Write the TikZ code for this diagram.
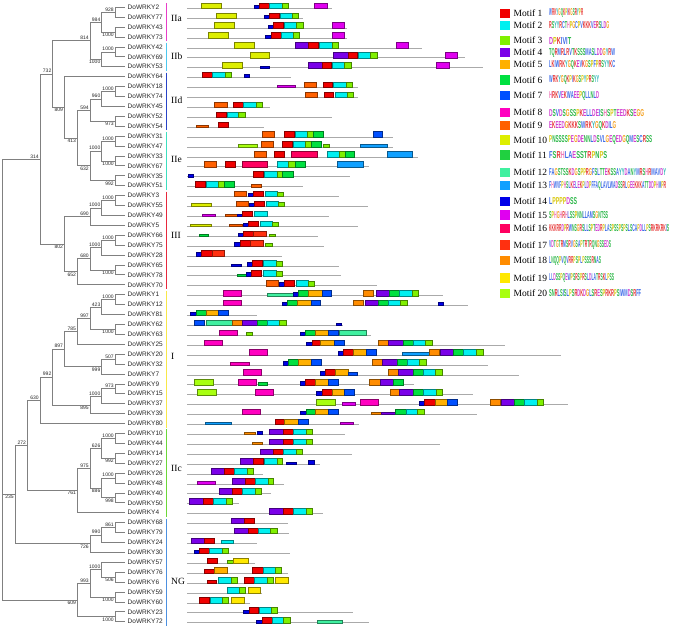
\documentclass[tikz,border=0pt]{standalone}
\usepackage{fontspec}
\setmainfont{Liberation Serif}
\setsansfont{Liberation Sans}
\usepackage{graphicx}
% motif colours
\definecolor{m1}{HTML}{F00000}
\definecolor{m2}{HTML}{00F0F0}
\definecolor{m3}{HTML}{80F000}
\definecolor{m4}{HTML}{7A00E8}
\definecolor{m5}{HTML}{FFB000}
\definecolor{m6}{HTML}{00E040}
\definecolor{m7}{HTML}{0050FF}
\definecolor{m8}{HTML}{FF00C0}
\definecolor{m9}{HTML}{FF6000}
\definecolor{m10}{HTML}{DDEE00}
\definecolor{m11}{HTML}{20D040}
\definecolor{m12}{HTML}{40F0A0}
\definecolor{m13}{HTML}{10A0FF}
\definecolor{m14}{HTML}{0000E8}
\definecolor{m15}{HTML}{E000F0}
\definecolor{m16}{HTML}{FF0060}
\definecolor{m17}{HTML}{FF3010}
\definecolor{m18}{HTML}{FF8C00}
\definecolor{m19}{HTML}{FFE800}
\definecolor{m20}{HTML}{A8FF10}
% group colours
\definecolor{gIIa}{HTML}{E83EC8}
\definecolor{gIIb}{HTML}{4CC8F0}
\definecolor{gIId}{HTML}{2844C8}
\definecolor{gIIe}{HTML}{3CE0C0}
\definecolor{gIII}{HTML}{E8283C}
\definecolor{gI}{HTML}{F8E848}
\definecolor{gIIc}{HTML}{6CD838}
\definecolor{gNG}{HTML}{4C90E0}
\definecolor{treegray}{HTML}{808080}
\definecolor{rowgray}{HTML}{AAAAAA}
% logo letter colours
\definecolor{aaHy}{HTML}{3D6BE8}
\definecolor{aaPo}{HTML}{2DB84A}
\definecolor{aaAc}{HTML}{D03FD0}
\definecolor{aaBa}{HTML}{E63232}
\definecolor{aaHi}{HTML}{F07AB8}
\definecolor{aaGl}{HTML}{F5A01E}
\definecolor{aaPr}{HTML}{D9C810}
\definecolor{aaTy}{HTML}{2AB5B5}
\definecolor{aaXx}{HTML}{999999}
\colorlet{lcA}{aaHy}\colorlet{lcC}{aaHy}\colorlet{lcF}{aaHy}\colorlet{lcI}{aaHy}
\colorlet{lcL}{aaHy}\colorlet{lcV}{aaHy}\colorlet{lcW}{aaHy}\colorlet{lcM}{aaHy}
\colorlet{lcN}{aaPo}\colorlet{lcQ}{aaPo}\colorlet{lcS}{aaPo}\colorlet{lcT}{aaPo}
\colorlet{lcD}{aaAc}\colorlet{lcE}{aaAc}\colorlet{lcK}{aaBa}\colorlet{lcR}{aaBa}
\colorlet{lcH}{aaHi}\colorlet{lcG}{aaGl}\colorlet{lcP}{aaPr}\colorlet{lcY}{aaTy}
\colorlet{lcB}{aaXx}\colorlet{lcJ}{aaXx}\colorlet{lcO}{aaXx}\colorlet{lcU}{aaXx}
\colorlet{lcX}{aaXx}\colorlet{lcZ}{aaXx}
\newcommand{\lgo}[1]{\lgoX#1\relax}
\def\lgoX#1{\ifx#1\relax\else\textcolor{lc#1}{#1}\expandafter\lgoX\fi}

\tikzset{
  tree/.style={draw=treegray, line width=0.75pt},
  leaf/.style={anchor=west, inner sep=0pt, font=\sffamily\fontsize{6.5}{7}\selectfont, text=black!85},
  bsup/.style={anchor=south east, inner sep=0pt, font=\sffamily\fontsize{5}{6}\selectfont, text=black!85, xshift=-1.2pt, yshift=0.8pt},
  bsdn/.style={anchor=north east, inner sep=0pt, font=\sffamily\fontsize{5}{6}\selectfont, text=black!85, xshift=-1.2pt, yshift=-0.8pt},
  grp/.style={anchor=west, inner sep=0pt, font=\fontsize{9.5}{10}\selectfont},
  gbar/.style={line width=1.8pt},
  rowline/.style={draw=rowgray, line width=0.8pt},
  mbox/.style={line width=0.35pt},
  lgtext/.style={anchor=west, inner sep=0pt, font=\fontsize{9.5}{10}\selectfont},
  logo/.style={anchor=west, inner sep=0pt, font=\sffamily\bfseries\fontsize{6}{6}\selectfont},
}
\newcommand{\tn}[3]{\coordinate (#1) at (#2,{7.3+9.91*(#3)});}
\newcommand{\ed}[3]{\draw[tree] (#1) |- (#2); \draw[tree] (#1) |- (#3);}
\newcommand{\bsA}[2]{\node[bsup] (b#1) at (#1) {#2};}
\newcommand{\bsB}[2]{\node[bsdn] (b#1) at (#1) {#2};}
\newcommand{\mrow}[3]{%
  \draw[rowline] (187,{7.3+9.91*#1+1}) -- (#2,{7.3+9.91*#1+1});
  \foreach \mm/\xa/\xb/\hh in {#3} {
    \filldraw[mbox, fill=m\mm, draw=m\mm!55!black] (\xa,{7.3+9.91*#1+1}) rectangle (\xb,{7.3+9.91*#1+1-\hh});
  }%
}

\begin{document}
\begin{tikzpicture}[x=1pt,y=-1pt]
\fill[white] (0,0) rectangle (675,628);
\useasboundingbox (0,0) rectangle (675,628);

% leaves
\foreach \n [count=\i from 0] in {2,77,43,73,42,69,53,64,18,74,45,52,54,31,47,33,67,35,51,3,55,49,5,66,75,28,65,78,70,1,12,81,62,63,25,20,32,7,9,15,37,39,80,10,44,14,27,26,48,40,50,4,68,79,24,30,57,76,6,59,60,23,72} {
  \coordinate (t\n) at (125,{7.3+9.91*\i});
  \node[leaf] (w\n) at (127.5,{7.3+9.91*\i}) {DoWRKY\n};
}

% tree: IIa, IIb
\tn{a1}{115}{0.5} \ed{a1}{t2}{t77} \bsA{a1}{928}
\tn{a2}{115}{2.5} \ed{a2}{t43}{t73} \bsB{a2}{1000}
\tn{a3}{101.7}{1.5} \ed{a3}{a1}{a2} \bsA{a3}{984}
\tn{b1}{115}{4.5} \ed{b1}{t42}{t69} \bsA{b1}{1000}
\tn{b2}{101.7}{5.25} \ed{b2}{b1}{t53} \bsB{b2}{1000}
\tn{ab}{90}{3.375} \ed{ab}{a3}{b2} \bsA{ab}{814}
% IId
\tn{d1}{115}{8.5} \ed{d1}{t18}{t74} \bsA{d1}{1000}
\tn{d2}{101.7}{9.25} \ed{d2}{d1}{t45} \bsA{d2}{960}
\tn{d3}{115}{11.5} \ed{d3}{t52}{t54} \bsB{d3}{973}
\tn{d4}{90}{10.375} \ed{d4}{d2}{d3} \bsA{d4}{594}
% IIe
\tn{e1}{115}{13.5} \ed{e1}{t31}{t47} \bsA{e1}{1000}
\tn{e2}{115}{15.5} \ed{e2}{t33}{t67} \bsB{e2}{1000}
\tn{e3}{101.7}{14.5} \ed{e3}{e1}{e2} \bsA{e3}{1000}
\tn{e4}{115}{17.5} \ed{e4}{t35}{t51} \bsB{e4}{992}
\tn{e5}{90}{16} \ed{e5}{e3}{e4} \bsB{e5}{632}
\tn{de}{77.3}{13.1875} \ed{de}{d4}{e5} \bsB{de}{413}
\tn{d0}{64.3}{10.09375} \ed{d0}{t64}{de} \bsB{d0}{809}
\tn{tp}{52.7}{6.734} \ed{tp}{ab}{d0} \bsA{tp}{732}
% III
\tn{s1}{115}{19.5} \ed{s1}{t3}{t55} \bsA{s1}{1000}
\tn{s2}{101.7}{20.25} \ed{s2}{s1}{t49} \bsA{s2}{1000}
\tn{s3}{90}{21.125} \ed{s3}{s2}{t5} \bsA{s3}{690}
\tn{s4}{115}{23.5} \ed{s4}{t66}{t75} \bsA{s4}{1000}
\tn{s5}{101.7}{24.25} \ed{s5}{s4}{t28} \bsA{s5}{1000}
\tn{s6}{115}{26.5} \ed{s6}{t65}{t78} \bsB{s6}{1000}
\tn{s7}{90}{25.375} \ed{s7}{s5}{s6} \bsA{s7}{680}
\tn{s8}{77.3}{26.6875} \ed{s8}{s7}{t70} \bsB{s8}{652}
\tn{s9}{64.3}{23.906} \ed{s9}{s3}{s8} \bsB{s9}{802}
\tn{n314}{40}{15.32} \ed{n314}{tp}{s9} \bsA{n314}{314}
% I
\tn{i1}{115}{29.5} \ed{i1}{t1}{t12} \bsA{i1}{1000}
\tn{i2}{101.7}{30.25} \ed{i2}{i1}{t81} \bsA{i2}{423}
\tn{i3}{115}{32.5} \ed{i3}{t62}{t63} \bsB{i3}{1000}
\tn{i4}{90}{31.375} \ed{i4}{i2}{i3} \bsA{i4}{997}
\tn{i5}{77.3}{32.6875} \ed{i5}{i4}{t25} \bsA{i5}{785}
\tn{i6}{115}{35.5} \ed{i6}{t20}{t32} \bsA{i6}{507}
\tn{i7}{101.7}{36.25} \ed{i7}{i6}{t7} \bsB{i7}{999}
\tn{i8}{64.3}{34.47} \ed{i8}{i5}{i7} \bsA{i8}{897}
\tn{i9}{115}{38.5} \ed{i9}{t9}{t15} \bsA{i9}{973}
\tn{i10}{101.7}{39.25} \ed{i10}{i9}{t37} \bsA{i10}{1000}
\tn{i11}{90}{40.125} \ed{i11}{i10}{t39} \bsB{i11}{895}
\tn{i12}{52.7}{37.297} \ed{i12}{i8}{i11} \bsA{i12}{992}
\tn{i13}{40}{39.65} \ed{i13}{i12}{t80} \bsA{i13}{630}
% IIc
\tn{c1}{115}{43.5} \ed{c1}{t10}{t44} \bsA{c1}{1000}
\tn{c2}{115}{45.5} \ed{c2}{t14}{t27} \bsB{c2}{992}
\tn{c3}{101.7}{44.5} \ed{c3}{c1}{c2} \bsA{c3}{626}
\tn{c4}{115}{47.5} \ed{c4}{t26}{t48} \bsA{c4}{1000}
\tn{c5}{115}{49.5} \ed{c5}{t40}{t50} \bsB{c5}{998}
\tn{c6}{101.7}{48.5} \ed{c6}{c4}{c5} \bsB{c6}{886}
\tn{c7}{90}{46.5} \ed{c7}{c3}{c6} \bsA{c7}{975}
\tn{c8}{77.3}{48.75} \ed{c8}{c7}{t4} \bsB{c8}{761}
\tn{n272}{27.3}{44.2} \ed{n272}{i13}{c8} \bsA{n272}{272}
% NG
\tn{g1}{115}{52.5} \ed{g1}{t68}{t79} \bsA{g1}{861}
\tn{g2}{101.7}{53.25} \ed{g2}{g1}{t24} \bsA{g2}{990}
\tn{g3}{90}{54.125} \ed{g3}{g2}{t30} \bsB{g3}{726}
\tn{n235}{15}{49.1625} \ed{n235}{n272}{g3} \bsB{n235}{235}
\tn{g4}{115}{57.5} \ed{g4}{t76}{t6} \bsB{g4}{506}
\tn{g5}{101.7}{56.75} \ed{g5}{t57}{g4} \bsA{g5}{1000}
\tn{g6}{115}{59.5} \ed{g6}{t59}{t60} \bsB{g6}{1000}
\tn{g7}{90}{58.125} \ed{g7}{g5}{g6} \bsA{g7}{993}
\tn{g8}{115}{61.5} \ed{g8}{t23}{t72} \bsB{g8}{1000}
\tn{g9}{77.3}{59.8125} \ed{g9}{g7}{g8} \bsB{g9}{609}
\tn{root}{2.7}{49.1625}
\draw[tree] (root) |- (n314);
\draw[tree] (root) |- (n235);
\draw[tree] (root) |- (g9);

% group bars and labels
\foreach \g/\fa/\la/\ly in {IIa/0/3/18.3, IIb/4/6/56, IId/7/12/100, IIe/13/18/159.3, III/19/28/235, I/29/42/356, IIc/43/51/468.3, NG/52/62/581} {
  \draw[gbar, g\g] (166.5,{7.3+9.91*\fa-4}) -- (166.5,{7.3+9.91*\la+4});
  \node[grp] (lab\g) at (171,\ly) {\g};
}

% motif rows
\mrow{0}{331.7}{10/200.7/220.7/5.5, 14/253.7/259.3/3, 1/259.3/269/5.5, 2/269/281.7/5.5, 3/281.7/287.7/5.5, 15/314.3/326.7/5.5}
\mrow{1}{303.3}{10/216/236/5.5, 14/264.3/269.3/3, 1/269.3/279/5.5, 2/280/292.3/5.5, 3/292.3/298.3/5.5}
\mrow{2}{346.7}{10/214.3/234.3/5.5, 14/268.3/273.3/3, 1/273.3/283.3/5.5, 2/284/296/5.5, 3/296/302.7/5.5, 15/331.7/344/5.5}
\mrow{3}{346.7}{10/208.3/228.3/5.5, 14/265.3/270.7/3, 1/270.7/280.7/5.5, 2/280.7/293.3/5.5, 3/293.3/299.3/5.5, 15/331.7/344/5.5}
\mrow{4}{421.7}{10/234.3/254.3/5.5, 4/295/308.3/5.5, 1/308.3/317.7/5.5, 2/319.3/331.7/5.5, 3/331.7/337.7/5.5, 15/396/408.3/5.5}
\mrow{5}{465}{10/250/269.3/5.5, 4/333.3/347.7/5.5, 1/347.7/356.7/5.5, 2/357.7/370/5.5, 3/370/376.7/5.5, 15/445/456.7/5.5}
\mrow{6}{483.3}{10/221.7/241.7/5.5, 14/260/269.3/2, 4/308.3/321.7/5.5, 1/321.7/331/5.5, 2/332.3/344.3/5.5, 3/344.3/350.7/5.5, 15/436/449/5.5}
\mrow{7}{291}{1/201.7/212.3/5.5, 2/212.3/225/5.5, 3/225/231/5.5, 14/244/249.3/3}
\mrow{8}{358.3}{15/276.7/295/2.5, 9/304/316/5.5, 1/322.7/332.3/5.5, 2/333.3/346/5.5, 3/346/351.7/5.5}
\mrow{9}{358.3}{9/305.3/317.3/5.5, 1/324/333.3/5.5, 2/335/346.7/5.5, 3/346.7/352.7/5.5}
\mrow{10}{270}{9/214.3/226.7/5.5, 1/232.7/242.7/5.5, 2/243.3/256/5.5, 3/256/261.7/5.5}
\mrow{11}{332.3}{1/215.7/226/5.5, 2/226.7/238.3/5.5, 3/238.3/245/5.5}
\mrow{12}{264.3}{9/196/208.3/2.5, 1/218.3/228.3/5.5}
\mrow{13}{393.3}{9/262.3/274.3/5.5, 1/284.3/294/5.5, 2/295/307.3/5.5, 3/307.3/313.3/5.5, 6/313.3/323.3/5.5, 7/372.7/381.7/5.5}
\mrow{14}{393.3}{20/238.3/256.7/3, 9/261/272.7/5.5, 1/281.7/291.7/5.5, 2/293.3/305/5.5, 3/305/311/5.5, 6/311/320.7/5.5, 3/322.7/329.3/2.5, 13/360/386.7/3}
\mrow{15}{418.3}{9/254/265.7/5.5, 1/274.3/284.3/5.5, 16/291/316.7/5.5, 2/326.7/339/5.5, 3/339/345/5.5, 6/345/354/5.5, 13/386.7/412.3/5.5}
\mrow{16}{369.3}{9/204.3/216/5.5, 1/225/235/5.5, 16/241.7/267.3/5.5, 2/276.7/288.3/5.5, 3/288.3/295/5.5, 6/295/305/5.5, 13/337.3/362.7/5.5}
\mrow{17}{350}{14/188/193.3/2.5, 1/253.3/263.3/5.5, 2/264/276.7/5.5, 3/276.7/282.3/5.5, 6/282.3/292.7/5.5}
\mrow{18}{303.3}{1/195/205/5.5, 2/206/218.3/5.5, 3/218.3/224.3/5.5, 6/224.3/234/5.5, 9/251/260.7/2.5}
\mrow{19}{339.3}{9/234/245.7/5.5, 14/247.7/253.3/3.5, 1/253.3/262.7/5.5, 2/265/276.7/5.5, 3/276.7/283.3/4.5}
\mrow{20}{367.7}{10/191/211/3.5, 9/235.7/247.7/5.5, 14/249/254.3/3.5, 1/254.3/264/5.5, 2/266/278.3/5.5, 3/278.3/284.3/4.5}
\mrow{21}{329.3}{15/201.7/215/2.5, 9/225/237.3/2.5, 14/237.3/242.3/2.5, 1/242.3/252.3/5.5, 2/254.3/266.7/5.5}
\mrow{22}{357.7}{10/190/210.7/2.5, 9/229/241.7/2.5, 14/242.7/248.3/3.5, 1/248.3/258.3/5.5, 2/260/272/5.5, 3/272/278.3/4.5}
\mrow{23}{318.3}{6/199/208.3/2.5, 14/237.7/242.7/3.5, 1/242.7/253.3/5.5, 17/253.3/266/5.5, 3/269.3/275.3/2.5}
\mrow{24}{324}{14/234.3/240/3.5, 1/240/250/5.5, 17/250/262.7/5.5, 3/265.3/271.7/2.5}
\mrow{25}{281.7}{14/196/201/3.5, 1/201/211.7/5.5, 17/211.7/224/5.5}
\mrow{26}{339.3}{14/231/241/2, 14/246.7/251.7/3.5, 1/251.7/261.7/5.5, 2/263.3/276/5.5, 3/276/281.7/4.5}
\mrow{27}{341}{6/236.7/246/2, 14/246/251/3.5, 1/251/261/5.5, 2/263.3/276/5.5, 3/276/281.7/4.5}
\mrow{28}{376.7}{9/266/277.7/5.5, 14/279/284.3/3.5, 1/284.3/294/5.5, 2/296/308.3/5.5, 3/308.3/314.3/4.5}
\mrow{29}{443}{8/223.3/241/5.5, 12/267.3/293.3/2.5, 14/293.3/298.3/3.5, 6/298.3/308.3/5.5, 5/308.3/321.7/5.5, 7/321.7/331/5.5, 18/363.3/373.3/5.5, 4/376/389.3/5.5, 6/389.3/399.3/5.5, 2/399.3/411.7/5.5, 3/411.7/417.7/5.5}
\mrow{30}{468.3}{8/223.3/241/5.5, 14/282.3/287.3/3.5, 6/287.3/297.3/5.5, 5/297.3/310.7/5.5, 7/310.7/320/5.5, 18/353.3/363.3/5.5, 4/365/378.3/5.5, 6/378.3/387.7/5.5, 2/387.7/400/5.5, 3/400/406.7/5.5, 14/437.7/442.7/3}
\mrow{31}{256.7}{14/190/195.7/3.5, 6/195.7/206/5.5, 5/206/218.3/5.5, 7/218.3/227.7/5.5}
\mrow{32}{343.3}{7/194.3/204/5.5, 12/206/231.7/5.5, 18/231.7/242.3/5.5, 4/242.3/257.3/5.5, 6/257.3/267.3/5.5, 2/267.3/279.3/5.5, 3/279.3/285.7/5.5, 14/335.7/341.3/2.5}
\mrow{33}{370.7}{8/219/236.7/5.5, 3/245.7/251.7/3.5, 14/300/305/3.5, 6/305/315/5.5, 5/315/328.3/5.5, 7/328.3/338.3/5.5, 12/339.3/365.7/5.5}
\mrow{34}{505}{8/204/222.3/5.5, 14/305.7/311.7/3.5, 1/311.7/320/5.5, 5/320/334/5.5, 7/334/344/5.5, 18/378.3/388.3/5.5, 4/388.3/402.7/5.5, 6/402.7/412.7/5.5, 2/412.7/425/5.5, 3/425/431.7/5.5}
\mrow{35}{561}{8/249/267.3/5.5, 14/337.7/342.7/3.5, 1/342.7/353.3/5.5, 5/353.3/366/5.5, 7/366/375.7/5.5, 13/402.3/429.3/2.5, 18/429.3/439.3/5.5, 4/440/453.3/5.5, 6/453.3/463.3/5.5, 2/463.3/476/5.5, 3/476/482.7/5.5}
\mrow{36}{487.7}{8/230/249/2.5, 14/283.3/288.3/3.5, 6/288.3/298.3/5.5, 5/298.3/311/5.5, 7/311/321/5.5, 18/372.3/382.3/5.5, 4/382.3/396.7/5.5, 6/396.7/406.7/5.5, 2/406.7/419.3/5.5, 3/419.3/426/5.5}
\mrow{37}{519}{8/242.7/261/5.5, 14/320/325/3.5, 1/325/335/5.5, 5/335/347.7/5.5, 7/347.7/357.3/3, 18/388.3/398.3/5.5, 4/398.3/412.7/5.5, 6/412.7/422.7/5.5, 2/422.7/435/5.5, 3/435/441.7/5.5}
\mrow{38}{414}{20/194.3/213.3/5.5, 8/237.7/256/5.5, 6/257.7/267.3/2.5, 14/300/305/3.5, 1/305/315/5.5, 5/315/328.3/5.5, 7/328.3/337.7/5.5, 18/369.3/380/5.5, 4/380/393.3/5.5, 6/393.3/402.7/5.5}
\mrow{39}{473.3}{20/196.7/215.7/5.5, 8/255/273.3/5.5, 14/315.7/321.7/3.5, 1/321.7/331.7/5.5, 5/331.7/344.3/5.5, 7/344.3/354/5.5, 18/390/399.3/5.5, 4/399.3/413.3/5.5, 6/413.3/423.3/5.5, 2/423.3/436/5.5, 3/436/442.3/5.5}
\mrow{40}{567.7}{20/315.7/335/5.5, 15/342.3/355/2.5, 8/360/378.3/5.5, 14/419/424.3/3.5, 1/424.3/435/5.5, 5/435/447.3/5.5, 7/447.3/456.7/5.5, 18/490/500/5.5, 4/500.7/514.3/5.5, 6/514.3/524.3/5.5, 2/524.3/536.7/5.5, 3/536.7/543.3/5.5}
\mrow{41}{476.7}{8/241.7/260/5.5, 14/300/305.7/3.5, 6/305.7/315/5.5, 5/315/328.3/5.5, 7/328.3/338.3/5.5, 18/371/381/2.5, 4/381/395/2.5, 6/395/405.7/5.5, 2/405.7/416.7/5.5, 3/416.7/424/5.5}
\mrow{42}{359}{13/205/231/2.5, 1/275/284.3/5.5, 5/284.3/298.3/5.5, 7/298.3/307.7/5.5, 15/340/352.7/2.5}
\mrow{43}{345}{18/244.3/255/2.5, 14/257.3/262.3/3.5, 4/269.3/283.3/5.5, 1/283.3/293.3/5.5, 2/293.3/306/5.5, 3/306/311.7/5.5}
\mrow{44}{440}{18/251.7/261.7/2.5, 4/269.3/283.3/5.5, 1/283.3/293.3/5.5, 2/293.3/306/5.5, 3/306/311.7/5.5}
\mrow{45}{351.7}{4/260/273.3/5.5, 1/273.3/283.3/5.5, 2/283.3/296/5.5, 3/296/302.3/5.5}
\mrow{46}{320}{4/240/253.3/5.5, 1/253.3/263.3/5.5, 2/264/276.7/5.5, 3/276.7/282.3/5.5, 14/286/296/2, 14/308.3/314/3.5}
\mrow{47}{263.3}{4/211/224.3/5.5, 1/224.3/234/5.5, 2/234/246.7/5.5, 3/246.7/253.3/5.5}
\mrow{48}{284.3}{15/196.7/215/2.5, 4/231.7/245/5.5, 1/245/255/5.5, 2/255/267.7/5.5, 3/267.7/273.3/5.5}
\mrow{49}{271}{4/219/232.3/5.5, 1/232.3/242.3/5.5, 2/242.3/255/5.5, 3/255/261/5.5}
\mrow{50}{239.3}{4/189.3/203.3/5.5, 1/203.3/213.3/5.5, 2/213.3/225.7/5.5, 3/225.7/231.7/5.5}
\mrow{51}{323.3}{4/269.3/283.3/5.5, 1/283.3/293.3/5.5, 2/293.3/305.7/5.5, 3/305.7/311.7/5.5}
\mrow{52}{288.3}{4/230.7/244.3/5.5, 1/244.3/254/5.5}
\mrow{53}{289}{4/234.3/248.3/5.5, 1/248.3/257.7/5.5, 2/257.7/270/5.5, 3/270/276.7/5.5}
\mrow{54}{257.3}{4/191/204.3/5.5, 1/204.3/214/5.5, 2/220.7/232.7/3.5}
\mrow{55}{290}{14/194/199/3, 1/199/209.3/5.5, 2/209.3/221.7/5.5, 3/221.7/227.7/5.5}
\mrow{56}{255}{1/206.7/216.7/5.5, 3/227.3/233.3/3.5, 19/233.3/247.7/5.5}
\mrow{57}{288.3}{1/204/214/3.5, 5/214/227.3/5.5, 1/252.3/262.7/5.5, 2/262.7/275/5.5, 3/275/281/5.5}
\mrow{58}{288.3}{1/206.7/216/3, 2/218.3/231/5.5, 3/231/236.7/5.5, 1/244.3/254.3/5.5, 2/254.3/266.7/5.5, 3/266.7/272.7/5.5, 19/275/287.7/5.5}
\mrow{59}{262}{2/226.7/239/5.5, 3/239/245/5.5, 19/247.7/260/5.5}
\mrow{60}{250}{1/199.3/209.3/5.5, 2/210/222.3/5.5, 3/222.3/228.3/5.5, 19/231/244.3/5.5}
\mrow{61}{353.3}{14/243.3/249/3, 1/249/258.3/5.5, 2/259/271/5.5, 3/271/277.3/5.5}
\mrow{62}{369}{14/256/261.7/3, 1/261.7/271.7/5.5, 2/271.7/283.3/5.5, 3/283.3/290/5.5, 12/316.7/342.3/3}

% legend
\foreach \k/\yy/\w/\s in {
  1/13.3/34/WRKYGQKPIKGSRYPR,
  2/25.5/60/RSYYRCTHPGCPVKKKVERSLDG,
  3/40.7/22/DPKIVIT,
  4/52.5/66/TQRMRLRVTKSSSMASLDDGYRW,
  5/64.5/66/LKIWRKYGQKEVKGSPFPRSYYKC,
  6/80/50/WRKYGQKPIKGSPYPRSYY,
  7/95.7/50/HRKVEKWAEEPQLLNLD,
  8/112.7/95/DSVDSGSSPKELLDEISHSPTEEDKSEGG,
  9/125.5/67/EKEEDGKKKSWRKYGQKDILG,
  10/140/103/PNSSSSPEGDENNLDSVLGEQEDGQMESCRSS,
  11/155/58/FSRHLAESSTRPNPS,
  12/172.5/117/FAGSTSSKDGSPPRGFSLTTEKSSAYYDANYMRSHRMAVDY,
  13/185.5/117/FHWVFPHSLKELEKPLDPFFAQLAVLWADSSRLGEEKKKATTDDPHMPR,
  14/201.5/28/LPPPPDSS,
  15/215/59/SPHGHRHLSSPNNLLAMSGNTSS,
  16/228.5/120/KKKRRDPRWNSGRSLLSPTEDRPLASPSSPSPSLSCAPDLLPSRKRKRKIS,
  17/245/62/VDTGTRMSRVGSAPTRTRQNGSSEDS,
  18/260.7/52/LNQQPVQVRRPSPLPSSSRNAS,
  19/278/65/LLDSSPQEWPSRSPRSLDLATRSKLPSS,
  20/293.3/92/SNRLSISLPSRDKDGLSRESPRKRPSIWMDSRFF} {
  \fill[m\k] (500,\yy-4.7) rectangle (510,\yy+4.7);
  \node[lgtext] (lm\k) at (513.5,\yy) {Motif \k};
  \node[logo] (lg\k) at (549,\yy) {\resizebox{\w pt}{7pt}{\expandafter\lgo\expandafter{\s}}};
}
\end{tikzpicture}
\end{document}
